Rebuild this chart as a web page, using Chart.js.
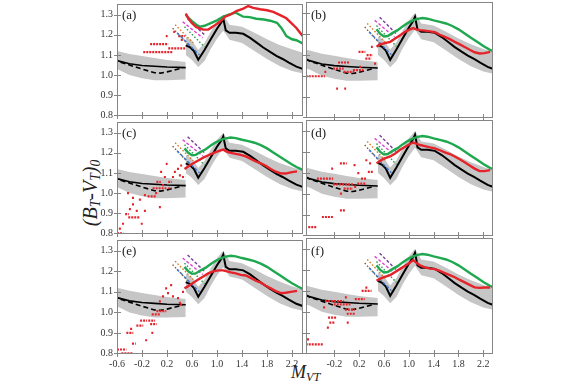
<!DOCTYPE html>
<html>
<head>
<meta charset="utf-8">
<script src="https://cdn.jsdelivr.net/npm/chart.js@4/dist/chart.umd.min.js"></script>
<style>
  body { margin: 0; background: #fff; }
  #wrap { position: relative; width: 576px; height: 384px; overflow: hidden; font-family: 'Liberation Serif', 'DejaVu Serif', serif; color: #222; }
  #wrap canvas { position: absolute; }
  .plab { position: absolute; font-size: 13px; line-height: 1; }
  #ytitle { position: absolute; left: 91px; top: 193px; transform: translate(-50%, -50%) rotate(-90deg); font-style: italic; font-size: 20px; line-height: 1; white-space: nowrap; }
  #xtitle { position: absolute; left: 291px; top: 362px; font-style: italic; font-size: 18px; white-space: nowrap; }
  #ytitle sub, #xtitle sub { font-size: 0.68em; vertical-align: -0.25em; line-height: 1; }
</style>
</head>
<body>
<div id="wrap">
  <div id="ytitle">(B<sub>T</sub>-V<sub>T</sub>)<sub>0</sub></div>
  <div id="xtitle">M<sub>VT</sub></div>
</div>
<script>
// axis ticks
const xTicks = [-0.6, -0.2, 0.2, 0.6, 1.0, 1.4, 1.8, 2.2];
const yTicks = [0.8, 0.9, 1.0, 1.1, 1.2, 1.3];

// grey envelope, faint (left) part and bright (right) part
const bandLeftX  = [-0.66, -0.6, -0.4, -0.2, 0.0, 0.2, 0.5];
const bandLeftUp = [1.125, 1.12, 1.105, 1.095, 1.085, 1.075, 1.065];
const bandLeftLo = [1.035, 1.03, 1.0, 0.985, 0.975, 0.975, 0.978];
const bandRX  = [0.5, 0.6, 0.7, 0.8, 0.9, 1.0, 1.1, 1.2, 1.4, 1.6, 1.8, 2.0, 2.2, 2.38];
const bandRUp = [1.19, 1.17, 1.125, 1.16, 1.215, 1.265, 1.3, 1.25, 1.24, 1.21, 1.178, 1.15, 1.128, 1.11];
const bandRLo = [1.1, 1.075, 1.04, 1.07, 1.13, 1.18, 1.22, 1.175, 1.16, 1.12, 1.08, 1.045, 1.02, 1.008];

// black reference sequence
const blackLX = [-0.66, -0.6, -0.4, -0.2, 0.0, 0.2, 0.5];
const blackLY = [1.08, 1.072, 1.056, 1.048, 1.044, 1.04, 1.037];
const dashLX  = [-0.66, -0.6, -0.4, -0.2, 0.0, 0.1, 0.2, 0.3, 0.45];
const dashLY  = [1.08, 1.07, 1.05, 1.03, 1.012, 1.01, 1.016, 1.024, 1.035];
const blackRX = [0.5, 0.57, 0.63, 0.7, 0.8, 0.9, 1.0, 1.07, 1.1, 1.14, 1.2, 1.3, 1.42, 1.53, 1.64, 1.74, 1.85, 1.95, 2.05, 2.15, 2.27, 2.38];
const blackRY = [1.148, 1.138, 1.12, 1.076, 1.125, 1.178, 1.23, 1.262, 1.282, 1.222, 1.21, 1.21, 1.205, 1.185, 1.16, 1.137, 1.115, 1.096, 1.08, 1.062, 1.042, 1.03];

// isochrone pieces
const isoX = [[0.53, 0.8], [0.45, 0.77], [0.48, 0.8], [0.36, 0.72], [0.29, 0.56], [0.33, 0.62]];
const isoY = [[1.28, 1.2], [1.265, 1.185], [1.24, 1.14], [1.21, 1.1], [1.233, 1.145], [1.25, 1.16]];

// green sequences
const greenAX = [0.5, 0.54, 0.6, 0.67, 0.73, 0.8, 0.9, 1.0, 1.1, 1.2, 1.3, 1.42, 1.52, 1.63, 1.75, 1.85, 1.96, 2.03, 2.11, 2.2, 2.27, 2.37];
const greenAY = [1.3, 1.285, 1.268, 1.25, 1.24, 1.245, 1.258, 1.272, 1.29, 1.302, 1.31, 1.29, 1.288, 1.28, 1.276, 1.27, 1.26, 1.234, 1.194, 1.178, 1.173, 1.157];
const greenX = [0.48, 0.54, 0.6, 0.66, 0.74, 0.82, 0.9, 0.98, 1.06, 1.14, 1.22, 1.3, 1.4, 1.5, 1.6, 1.7, 1.8, 1.9, 2.0, 2.1, 2.2, 2.3, 2.37];
const greenY = [1.222, 1.2, 1.188, 1.19, 1.205, 1.218, 1.236, 1.252, 1.264, 1.272, 1.276, 1.273, 1.265, 1.258, 1.25, 1.238, 1.222, 1.202, 1.182, 1.162, 1.142, 1.125, 1.115];

// red sequences per panel
const redAX = [0.5, 0.54, 0.6, 0.67, 0.78, 0.86, 0.94, 1.05, 1.13, 1.21, 1.31, 1.42, 1.5, 1.58, 1.69, 1.8, 1.9, 2.01, 2.11, 2.19, 2.27, 2.37];
const redAY = [1.306, 1.282, 1.258, 1.238, 1.226, 1.226, 1.242, 1.266, 1.29, 1.3, 1.318, 1.33, 1.343, 1.334, 1.327, 1.322, 1.314, 1.298, 1.282, 1.258, 1.234, 1.194];
const redBX = [0.48, 0.54, 0.6, 0.7, 0.78, 0.86, 0.94, 1.02, 1.07, 1.12, 1.18, 1.26, 1.34, 1.42, 1.5, 1.58, 1.66, 1.74, 1.82, 1.9, 1.98, 2.06, 2.14, 2.22, 2.31];
const redBY = [1.138, 1.15, 1.155, 1.162, 1.178, 1.194, 1.21, 1.222, 1.228, 1.222, 1.218, 1.216, 1.212, 1.208, 1.196, 1.186, 1.175, 1.162, 1.15, 1.137, 1.124, 1.112, 1.106, 1.108, 1.114];
const redDY = [1.145, 1.158, 1.168, 1.178, 1.192, 1.21, 1.225, 1.238, 1.245, 1.24, 1.233, 1.228, 1.222, 1.217, 1.208, 1.198, 1.19, 1.178, 1.165, 1.15, 1.135, 1.12, 1.108, 1.108, 1.113];
const redFY = [1.148, 1.158, 1.165, 1.175, 1.19, 1.205, 1.22, 1.235, 1.247, 1.235, 1.222, 1.212, 1.206, 1.204, 1.195, 1.185, 1.175, 1.165, 1.152, 1.14, 1.128, 1.116, 1.114, 1.116, 1.116];
const redCX = [0.48, 0.55, 0.62, 0.7, 0.78, 0.86, 0.94, 1.02, 1.1, 1.16, 1.22, 1.3, 1.38, 1.46, 1.54, 1.62, 1.7, 1.78, 1.86, 1.94, 2.02, 2.1, 2.18, 2.28];
const redCY = [1.12, 1.135, 1.148, 1.162, 1.176, 1.188, 1.198, 1.208, 1.216, 1.205, 1.2, 1.195, 1.19, 1.182, 1.17, 1.158, 1.148, 1.135, 1.12, 1.106, 1.098, 1.097, 1.103, 1.108];
const redEY = [1.117, 1.13, 1.145, 1.16, 1.175, 1.19, 1.2, 1.205, 1.205, 1.2, 1.195, 1.19, 1.183, 1.18, 1.168, 1.155, 1.145, 1.13, 1.117, 1.104, 1.094, 1.096, 1.1, 1.105];

// field star runs [x from, x to, y]
const dotsA = [[-0.18, 0.3, 1.114], [-0.07, 0.22, 1.154], [0.22, 0.49, 1.133], [0.38, 0.49, 1.194], [0.18, 0.21, 1.194], [0.42, 0.47, 1.175], [0.3, 0.33, 1.215]];
const dotsB = [[-0.66, -0.35, 0.997], [-0.14, 0.05, 1.063], [-0.22, -0.05, 1.034], [-0.05, 0.12, 1.018], [0.1, 0.27, 1.026], [-0.17, -0.14, 0.938], [-0.04, -0.01, 0.938], [0.19, 0.3, 1.114], [0.3, 0.4, 1.082], [0.32, 0.42, 1.098], [0.39, 0.42, 1.138], [0.44, 0.48, 1.058], [0.2, 0.23, 1.042], [-0.36, -0.33, 1.018]];
const dotsC = [[-0.6, -0.5, 0.8], [-0.57, -0.53, 0.824], [-0.52, -0.48, 0.848], [-0.47, -0.41, 0.896], [-0.41, -0.37, 0.92], [-0.42, -0.24, 0.88], [-0.36, -0.32, 0.944], [-0.25, -0.2, 0.968], [-0.3, -0.26, 0.912], [-0.17, -0.13, 0.912], [-0.22, -0.18, 0.848], [-0.17, -0.13, 0.99], [-0.11, 0.02, 0.984], [0.01, 0.06, 1.0], [0.07, 0.11, 0.93], [0.09, 0.13, 1.105], [0.15, 0.19, 1.08], [0.03, 0.1, 1.056], [-0.03, 0.19, 1.024], [0.12, 0.16, 1.04], [0.22, 0.28, 1.056], [0.22, 0.28, 1.024], [0.28, 0.32, 1.08], [0.31, 0.35, 1.105], [0.36, 0.4, 1.12], [0.39, 0.43, 1.088], [0.44, 0.49, 1.08], [0.41, 0.45, 1.137], [0.18, 0.21, 1.145], [-0.44, -0.4, 1.0], [-0.36, -0.32, 0.976]];
const dotsD = [[-0.62, -0.48, 0.84], [-0.4, -0.22, 0.888], [-0.11, -0.03, 0.92], [-0.48, -0.22, 1.072], [-0.25, -0.22, 1.12], [-0.11, 0.0, 1.145], [-0.22, 0.1, 1.044], [-0.05, 0.1, 1.024], [-0.11, -0.06, 1.0], [0.12, 0.16, 1.032], [0.17, 0.21, 1.098], [0.23, 0.31, 1.072], [0.17, 0.3, 1.048], [0.34, 0.42, 1.104], [0.36, 0.4, 1.145], [0.3, 0.34, 1.16], [0.11, 0.15, 1.137]];
const dotsE = [[-0.6, -0.45, 0.819], [-0.53, -0.34, 0.8], [-0.45, -0.34, 0.9], [-0.36, -0.3, 0.848], [-0.39, -0.35, 0.92], [-0.29, -0.18, 0.935], [-0.23, -0.12, 0.96], [-0.1, 0.01, 0.96], [-0.15, -0.11, 0.864], [-0.07, 0.035, 0.943], [-0.045, 0.09, 0.99], [0.03, 0.19, 1.006], [0.07, 0.11, 1.054], [0.12, 0.16, 1.078], [0.2, 0.24, 1.094], [0.17, 0.21, 1.117], [0.25, 0.29, 1.133], [0.28, 0.32, 1.078], [0.36, 0.4, 1.07], [0.39, 0.43, 1.046], [0.44, 0.48, 1.1], [0.41, 0.45, 1.038], [-0.05, -0.02, 0.9]];
const dotsF = [[-0.66, -0.38, 0.843], [-0.64, -0.6, 0.867], [-0.3, -0.16, 0.971], [-0.28, -0.19, 0.947], [-0.32, -0.28, 0.923], [-0.35, -0.05, 1.05], [-0.38, -0.34, 1.02], [-0.21, 0.06, 1.035], [-0.03, 0.13, 1.01], [0.0, 0.13, 0.99], [0.0, 0.04, 0.947], [-0.03, 0.01, 1.068], [0.13, 0.29, 1.06], [0.24, 0.4, 1.1], [0.3, 0.34, 1.115]];

const RED = '#e4232a', GREEN = '#1fa84f', GREY = '#c6c6c6', FRAME = '#858585';
const isoColors = ['#7a3a9a', '#e040d0', '#2a9a4a', '#3a78d8', '#8b5a2b', '#d07a2a'];
const isoDash = [[3, 2], [3, 2], [1.5, 2], [3, 2], [1.5, 2], [1.5, 2]];

Chart.defaults.font.family = "'Liberation Serif', 'DejaVu Serif', serif";
Chart.defaults.font.size = 10;
Chart.defaults.color = '#333';

function pts(xs, ys) {
    return xs.map((x, i) => ({ x: x, y: ys[i] }));
}

function runs(list) {
    const out = [];
    list.forEach(r => {
        out.push({ x: r[0], y: r[2] }, { x: r[1], y: r[2] }, { x: r[1], y: null });
    });
    return out;
}

// frame and crossing tick marks
const framePlugin = {
    id: 'frame',
    afterDatasetsDraw(chart) {
        const { ctx, chartArea: a, scales } = chart;
        ctx.save();
        ctx.strokeStyle = FRAME;
        ctx.lineWidth = 1;
        ctx.strokeRect(a.left + 0.5, a.top + 0.5, a.right - a.left - 1, a.bottom - a.top - 1);
        ctx.beginPath();
        scales.x.ticks.forEach(t => {
            const px = Math.round(scales.x.getPixelForValue(t.value)) + 0.5;
            ctx.moveTo(px, a.bottom - 4);
            ctx.lineTo(px, a.bottom + 3);
        });
        scales.y.ticks.forEach(t => {
            const py = Math.round(scales.y.getPixelForValue(t.value)) + 0.5;
            ctx.moveTo(a.left - 3, py);
            ctx.lineTo(a.left + 4, py);
        });
        ctx.stroke();
        ctx.restore();
    }
};

const panels = [
    { tag: '(a)', col: 0, row: 0, redX: redAX, redY: redAY, grX: greenAX, grY: greenAY, dots: dotsA },
    { tag: '(b)', col: 1, row: 0, redX: redBX, redY: redBY, grX: greenX, grY: greenY, dots: dotsB },
    { tag: '(c)', col: 0, row: 1, redX: redCX, redY: redCY, grX: greenX, grY: greenY, dots: dotsC },
    { tag: '(d)', col: 1, row: 1, redX: redBX, redY: redDY, grX: greenX, grY: greenY, dots: dotsD },
    { tag: '(e)', col: 0, row: 2, redX: redCX, redY: redEY, grX: greenX, grY: greenY, dots: dotsE },
    { tag: '(f)', col: 1, row: 2, redX: redBX, redY: redFY, grX: greenX, grY: greenY, dots: dotsF }
];

const colLeft = [117, 306], colWidth = [186, 187];
const rowTop = [2, 120, 238], rowHeight = 116;
const xRange = [[-0.6, 2.376], [-0.656, 2.356]];
const wrap = document.getElementById('wrap');

panels.forEach(p => {
    const padL = p.col === 0 ? 32 : 4;
    const padR = 4, padT = 8;
    const padB = p.row === 2 ? 24 : 8;
    const canvas = document.createElement('canvas');
    canvas.width = padL + colWidth[p.col] + padR;
    canvas.height = padT + rowHeight + padB;
    canvas.style.left = (colLeft[p.col] - padL) + 'px';
    canvas.style.top = (rowTop[p.row] - padT) + 'px';
    wrap.appendChild(canvas);

    const lab = document.createElement('div');
    lab.className = 'plab';
    lab.textContent = p.tag;
    lab.style.left = (colLeft[p.col] + 5) + 'px';
    lab.style.top = (rowTop[p.row] + 6) + 'px';
    wrap.appendChild(lab);

    const datasets = [];
    const line = (data, color, width, dash) => ({
        data: data, borderColor: color, borderWidth: width, borderDash: dash || [],
        pointRadius: 0, fill: false, tension: 0, spanGaps: false
    });
    datasets.push(line(pts(p.redX, p.redY), RED, 2.4));
    datasets.push(line(pts(p.grX, p.grY), GREEN, 2.4));
    isoX.forEach((xs, i) => datasets.push(line(pts(xs, isoY[i]), isoColors[i], 1.4, isoDash[i])));
    datasets.push(line(runs(p.dots), RED, 2.2, [2, 1]));
    datasets.push(line(pts(blackRX, blackRY), '#000', 2));
    datasets.push(line(pts(blackLX, blackLY), '#000', 1.6));
    datasets.push(line(pts(dashLX, dashLY), '#000', 1.6, [5, 3]));
    datasets.push(Object.assign(line(pts(bandRX, bandRUp), GREY, 0), { fill: '+1', backgroundColor: GREY }));
    datasets.push(line(pts(bandRX, bandRLo), GREY, 0));
    datasets.push(Object.assign(line(pts(bandLeftX, bandLeftUp), GREY, 0), { fill: '+1', backgroundColor: GREY }));
    datasets.push(line(pts(bandLeftX, bandLeftLo), GREY, 0));

    const xList = p.col === 0 ? xTicks : xTicks.slice(1);

    new Chart(canvas, {
        type: 'line',
        data: { datasets: datasets },
        options: {
            responsive: false,
            animation: false,
            devicePixelRatio: 1,
            layout: { padding: { left: 0, right: padR, top: padT, bottom: 0 } },
            plugins: { legend: { display: false }, tooltip: { enabled: false } },
            scales: {
                x: {
                    type: 'linear',
                    min: xRange[p.col][0],
                    max: xRange[p.col][1],
                    grid: { display: false, drawTicks: false, tickLength: 0 },
                    border: { display: false },
                    afterBuildTicks: s => { s.ticks = xList.map(v => ({ value: v })); },
                    afterFit: s => { s.height = padB; },
                    ticks: {
                        display: p.row === 2,
                        padding: 4,
                        maxRotation: 0,
                        autoSkip: false,
                        callback: v => v.toFixed(1)
                    }
                },
                y: {
                    type: 'linear',
                    min: 0.797,
                    max: 1.353,
                    grid: { display: false, drawTicks: false, tickLength: 0 },
                    border: { display: false },
                    afterBuildTicks: s => { s.ticks = yTicks.map(v => ({ value: v })); },
                    afterFit: s => { s.width = padL; },
                    ticks: {
                        display: p.col === 0,
                        padding: 4,
                        autoSkip: false,
                        callback: v => v.toFixed(1)
                    }
                }
            }
        },
        plugins: [framePlugin]
    });
});
</script>
</body>
</html>
